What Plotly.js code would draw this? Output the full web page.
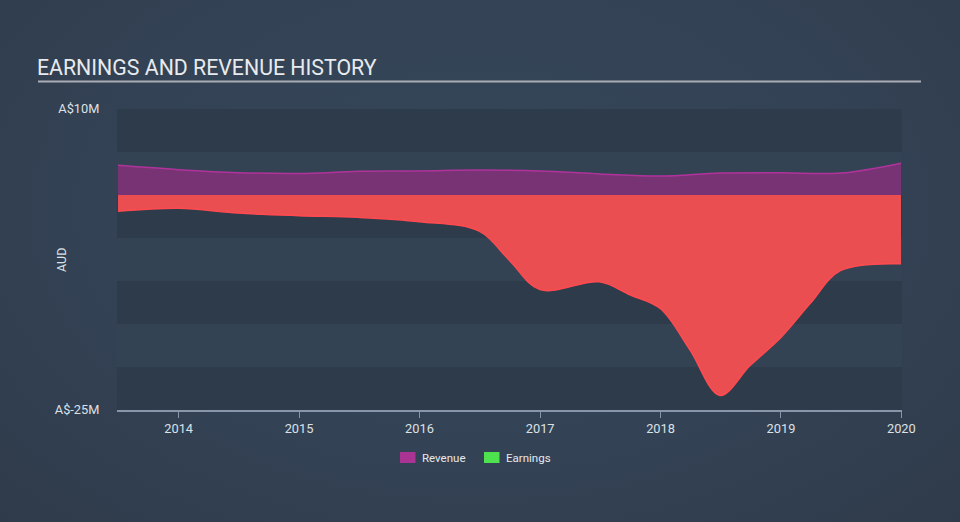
<!DOCTYPE html>
<html><head><meta charset="utf-8">
<script src="https://cdn.plot.ly/plotly-3.0.1.min.js"></script>
<style>
html,body{margin:0;padding:0;width:960px;height:522px;overflow:hidden;
background:radial-gradient(ellipse at 50% 40%, #36475a 0%, #334255 55%, #2f3b4a 100%);}
#chart{width:960px;height:522px;}
</style></head><body>
<div id="chart"></div>
<script>
const revDates = ["2013-07-01","2014-01-01","2014-07-01","2015-01-01","2015-07-01","2016-01-01","2016-07-01","2017-01-01","2017-07-01","2018-01-01","2018-07-01","2019-01-01","2019-07-01","2019-12-31"];
const revenue  = [3.45,2.95,2.6,2.5,2.75,2.8,2.9,2.8,2.45,2.2,2.55,2.6,2.55,3.7];
const earnDates = ["2013-07-01","2014-01-01","2014-07-01","2015-01-01","2015-07-01","2016-01-01","2016-06-30","2016-09-30","2016-12-31","2017-06-30","2017-09-30","2017-12-31","2018-03-31","2018-06-30","2018-09-30","2018-12-31","2019-03-31","2019-06-30","2019-12-31"];
const earnings  = [-1.9,-1.55,-2.1,-2.4,-2.6,-3.1,-4.2,-7.6,-11.0,-10.1,-11.6,-13.2,-18.0,-23.3,-19.8,-16.6,-12.6,-8.8,-8.0];
const yTickVals = [10,-25];
const yTickText = ["A$10M","A$-25M"];
const xTickVals = ["2014-01-01","2015-01-01","2016-01-01","2017-01-01","2018-01-01","2019-01-01","2020-01-01"];
const xTickText = ["2014","2015","2016","2017","2018","2019","2020"];
const bandEdges = [10,5,0,-5,-10,-15,-20,-25];
const legendNames = ["Revenue","Earnings"];
const legendColors = ["#a93494","#4fe24f"];

const W = 785, H = 301, L = 117, T = 109;
const px = x => (x - L) / W;
const py = y => (T + H - y) / H;

const shapes = [];
for (let i=0;i<bandEdges.length-1;i++){
  shapes.push({type:"rect",xref:"paper",yref:"y",x0:0,x1:1,y0:bandEdges[i+1],y1:bandEdges[i],
    fillcolor: i%2===0 ? "#2e3b4b" : "#344354", line:{width:0}, layer:"below"});
}
shapes.push({type:"line",xref:"paper",yref:"paper",x0:px(38),x1:px(921),y0:py(81.5),y1:py(81.5),
  line:{color:"#a9adb3",width:2}});

const legendX = [400, 484];
const annotations = [{text:"AUD",xref:"paper",yref:"paper",x:px(61),y:py(260),xanchor:"center",yanchor:"middle",
    showarrow:false,textangle:-90,font:{size:12.5,color:"#dde1e6"}}];
legendNames.forEach((n,i)=>{
  shapes.push({type:"rect",xref:"paper",yref:"paper",x0:px(legendX[i]),x1:px(legendX[i]+15.5),
    y0:py(463),y1:py(452),fillcolor:legendColors[i],line:{width:0}});
  annotations.push({text:n,xref:"paper",yref:"paper",x:px(legendX[i]+20),y:py(458),xanchor:"left",yanchor:"middle",
    showarrow:false,font:{size:11.5,color:"#e6e8eb"}});
});

const traces = [
  {x:revDates,y:revenue,type:"scatter",mode:"lines",name:"Revenue",line:{shape:"spline",color:"#b0339c",width:1.5},
   fill:"tozeroy",fillcolor:"rgba(128,50,120,0.9)",showlegend:false,hoverinfo:"skip"},
  {x:earnDates,y:earnings,type:"scatter",mode:"lines",name:"Earnings",line:{shape:"spline",color:"#ff4b50",width:1.5},
   fill:"tozeroy",fillcolor:"#eb4e51",showlegend:false,hoverinfo:"skip"}
];

const layout = {
  width:960,height:522,
  paper_bgcolor:"rgba(0,0,0,0)",plot_bgcolor:"rgba(0,0,0,0)",
  margin:{l:117,r:58,t:109,b:112},
  font:{family:"Roboto, sans-serif",color:"#dde1e6",size:12},
  title:{text:"EARNINGS AND REVENUE HISTORY",x:37/960,xanchor:"left",y:1-68/522,yanchor:"middle",
    font:{size:21.3,color:"#e8eaed",family:"Roboto, sans-serif"}},
  xaxis:{type:"date",range:["2013-06-28","2020-01-03"],tickvals:xTickVals,ticktext:xTickText,
    showgrid:false,zeroline:false,showline:true,linecolor:"#8796aa",linewidth:1.5,
    ticks:"outside",ticklen:6,tickcolor:"#8796aa",tickfont:{size:12.8,color:"#dde1e6"}},
  yaxis:{range:[-25,10],tickvals:yTickVals,ticktext:yTickText,showgrid:false,zeroline:false,
    showline:false,ticks:"outside",ticklen:14,tickcolor:"rgba(0,0,0,0)",tickfont:{size:12.8,color:"#dde1e6"}},
  shapes:shapes,
  annotations:annotations,
  showlegend:false,
  hovermode:false
};
Plotly.newPlot("chart",traces,layout,{displayModeBar:false,staticPlot:true});
</script>
</body></html>
